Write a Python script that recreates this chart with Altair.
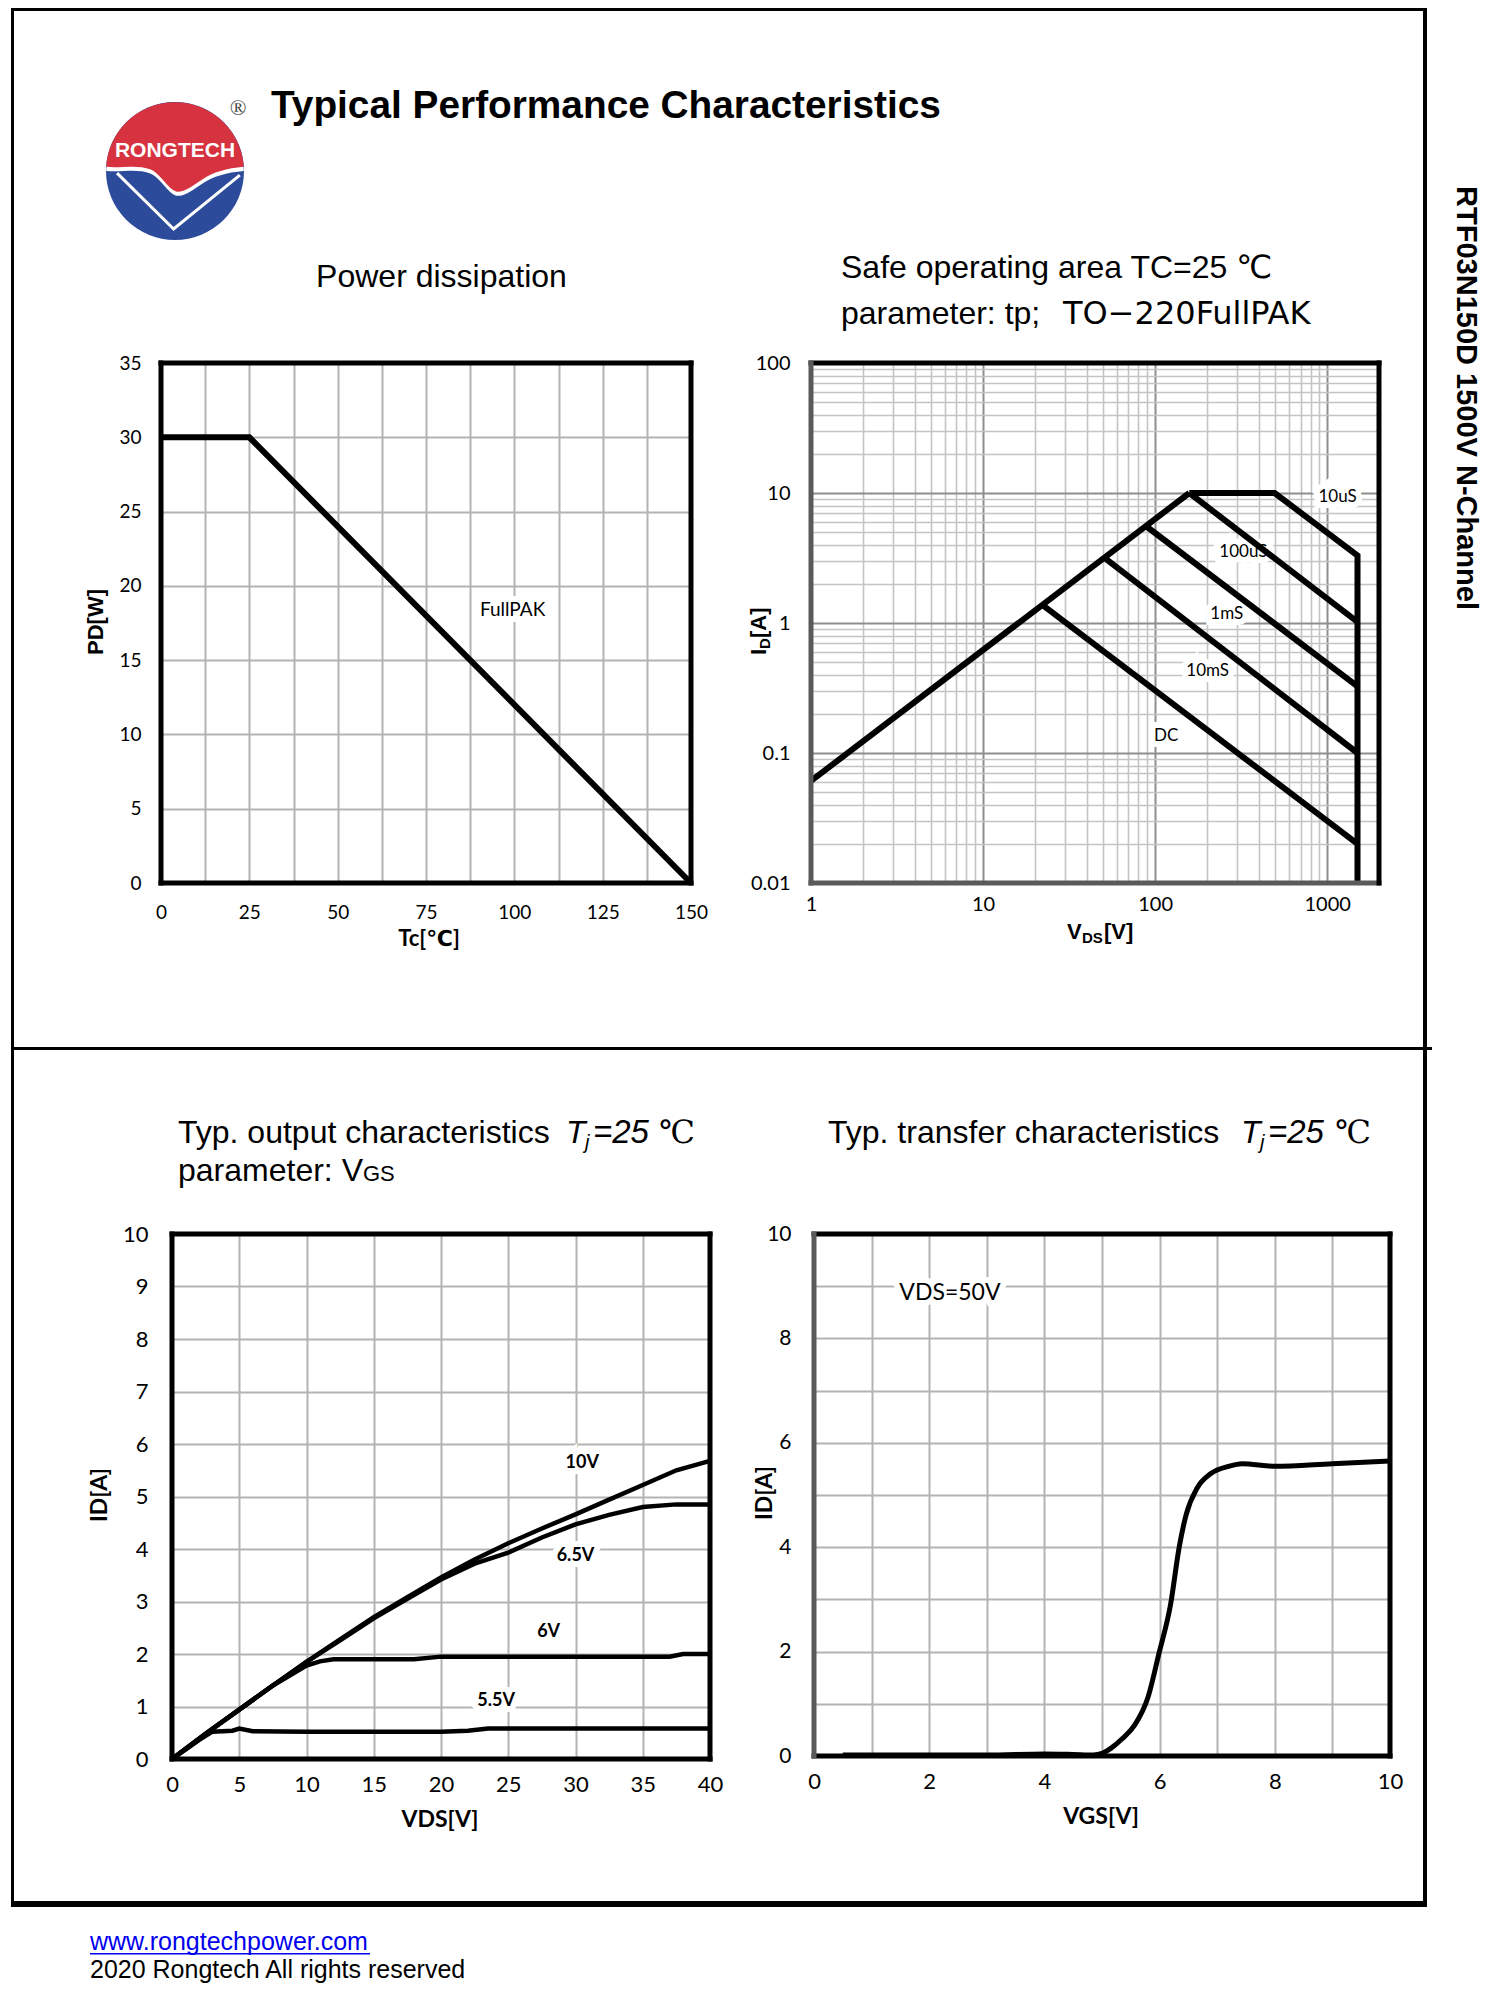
import altair as alt
import pandas as pd

# ---------------- data ----------------
# Power dissipation  PD[W] vs Tc[C]
pd_tc = [0, 25, 150]
pd_w = [30, 30, 0]
pd_note = ["FullPAK"]
pd_note_x = [99.5]
pd_note_y = [18.4]

# Safe operating area (VDS [V], ID [A])
soa_rds_v = [1, 158]
soa_rds_i = [0.061, 10]
soa_10us_v = [158, 495, 1500, 1500]
soa_10us_i = [10, 10, 3.3, 0.01]
soa_100us_v = [158, 1500]
soa_100us_i = [10, 1.02]
soa_1ms_v = [88.7, 1500]
soa_1ms_i = [5.55, 0.325]
soa_10ms_v = [50.8, 1500]
soa_10ms_i = [3.17, 0.1]
soa_dc_v = [22.2, 1500]
soa_dc_i = [1.37, 0.02]
soa_note = ["10uS", "100uS", "1mS", "10mS", "DC"]
soa_note_v = [1150, 326, 261, 202, 116]
soa_note_i = [9.3, 3.5, 1.17, 0.43, 0.135]

# Output characteristics (VDS [V], ID [A]) per VGS
out_x_10v = [0, 2.5, 5, 7.5, 10, 12.5, 15, 17.5, 20, 22.5, 25, 27.5, 30, 32.5, 35, 37.5, 40]
out_y_10v = [0, 0.48, 0.94, 1.4, 1.85, 2.28, 2.7, 3.08, 3.46, 3.8, 4.11, 4.39, 4.66, 4.94, 5.22, 5.5, 5.68]
out_x_65v = [0, 2.5, 5, 7.5, 10, 12.5, 15, 17.5, 20, 22.5, 25, 27.5, 30, 32.5, 35, 37.5, 40]
out_y_65v = [0, 0.48, 0.94, 1.4, 1.85, 2.26, 2.68, 3.05, 3.42, 3.72, 3.93, 4.22, 4.47, 4.65, 4.8, 4.85, 4.85]
out_x_6v = [0, 2.5, 5, 7.5, 10, 11, 12, 15, 18, 20, 25, 30, 37, 38, 40]
out_y_6v = [0, 0.48, 0.94, 1.4, 1.78, 1.86, 1.9, 1.9, 1.9, 1.95, 1.95, 1.95, 1.95, 2.0, 2.0]
out_x_55v = [0, 1, 2, 3, 4.5, 5, 6, 10, 15, 20, 22, 23.5, 30, 40]
out_y_55v = [0, 0.18, 0.36, 0.52, 0.54, 0.58, 0.53, 0.52, 0.52, 0.52, 0.54, 0.58, 0.58, 0.58]
out_note = ["10V", "6.5V", "6V", "5.5V"]
out_note_x = [30.5, 30.0, 28.0, 24.1]
out_note_y = [5.63, 3.86, 2.42, 1.11]

# Transfer characteristics (VGS [V], ID [A])
tr_vgs = [0.5, 1, 2, 3, 4, 4.5, 4.85, 5.0, 5.17, 5.35, 5.56, 5.8, 5.99, 6.19, 6.34, 6.46, 6.65, 6.89, 7.2, 7.43, 8.0, 9.0, 10.0]
tr_id = [0.02, 0.02, 0.02, 0.02, 0.04, 0.03, 0.02, 0.05, 0.16, 0.33, 0.58, 1.13, 1.97, 2.9, 4.0, 4.62, 5.13, 5.41, 5.55, 5.6, 5.55, 5.6, 5.65]
tr_note = ["VDS=50V"]
tr_note_x = [2.36]
tr_note_y = [8.87]

# tick values
pd_x_ticks = [0, 12.5, 25, 37.5, 50, 62.5, 75, 87.5, 100, 112.5, 125, 137.5, 150]
pd_y_ticks = [0, 5, 10, 15, 20, 25, 30, 35]
soa_x_ticks = [round(m * 10.0 ** e, 8) for e in range(0, 3) for m in range(1, 10)] + [1000, 2000]
soa_y_ticks = [round(m * 10.0 ** e, 8) for e in range(-2, 2) for m in range(1, 10)] + [100]
soa_x_major = [1, 10, 100, 1000]
soa_y_major = [0.01, 0.1, 1, 10, 100]
out_x_ticks = [0, 5, 10, 15, 20, 25, 30, 35, 40]
out_y_ticks = [0, 1, 2, 3, 4, 5, 6, 7, 8, 9, 10]
tr_x_ticks = [0, 1, 2, 3, 4, 5, 6, 7, 8, 9, 10]
tr_y_ticks = [0, 1, 2, 3, 4, 5, 6, 7, 8, 9, 10]

# ---------------- helpers ----------------
SANS = "Liberation Sans, Arial, DejaVu Sans"
WIDE = "DejaVu Sans, Liberation Sans"
LATO = "Lato, DejaVu Sans"
SERIF = "Liberation Serif, DejaVu Serif, serif"
OX = OY = 8
one = pd.DataFrame({"k": [0]})


def series(name, xs, ys):
    return pd.DataFrame({"x": xs, "y": ys, "s": name, "i": list(range(len(xs)))})


def notes(texts, xs, ys):
    return pd.DataFrame({"x": xs, "y": ys, "t": texts})


def txt(s, X, Y, size, font=SANS, weight="normal", style="normal", align="left",
        baseline="alphabetic", angle=0, color="black"):
    props = dict(text=s, font=font, fontSize=size, fontWeight=weight, fontStyle=style,
                 align=align, baseline=baseline, color=color)
    if angle:
        props["angle"] = angle
    return alt.Chart(one).mark_text(**props).encode(x=alt.value(X - OX), y=alt.value(Y - OY))


def box(X1, X2, Y1, Y2, color="black"):
    return alt.Chart(one).mark_rect(color=color).encode(
        x=alt.value(X1 - OX), x2=alt.value(X2 - OX), y=alt.value(Y1 - OY), y2=alt.value(Y2 - OY))


def ax(values, size, pad, expr=None, gc="#b3b3b3", gw=2):
    d = dict(values=values, grid=True, gridColor=gc, gridWidth=gw, ticks=False, domain=False,
             labelFont=LATO, labelFontSize=size, labelColor="black", labelPadding=pad,
             labelFlush=False, labelOverlap=False, title=None)
    if expr is not None:
        d["labelExpr"] = expr
    return alt.Axis(**d)


def frame(x0, x1, top="black", right="black", bottom="black", left="black", w=5):
    b = alt.Chart(one)
    kw = dict(strokeWidth=w, strokeCap="square")
    return [
        b.mark_rule(color=top, **kw).encode(x=alt.value(x0), x2=alt.value(x1), y=alt.value(0)),
        b.mark_rule(color=bottom, **kw).encode(x=alt.value(x0), x2=alt.value(x1), y=alt.value("height")),
        b.mark_rule(color=left, **kw).encode(x=alt.value(x0), y=alt.value(0), y2=alt.value("height")),
        b.mark_rule(color=right, **kw).encode(x=alt.value(x1), y=alt.value(0), y2=alt.value("height")),
    ]


def note_layers(df, size, weight="normal", halo=12):
    base = alt.Chart(df).encode(x="x:Q", y="y:Q", text="t:N")
    h = base.mark_text(font=LATO, fontSize=size, fontWeight=weight, color="white",
                       stroke="white", strokeWidth=halo, strokeJoin="miter")
    t = base.mark_text(font=LATO, fontSize=size, fontWeight=weight, color="black")
    return h, t


def spacer(w, h):
    return alt.Chart(one).mark_point(opacity=0).properties(width=w, height=h)


# grid columns (page x):  8 |150| 158 |549| 707 |101| 808 |579| 1387
COL0, COL1, COL2, COL3 = 150, 549, 101, 579

# ---------------- plot 1: power dissipation (x 158-688) ----------------
p1_df = pd.DataFrame({"x": pd_tc, "y": pd_w})
p1_line = alt.Chart(p1_df).mark_line(color="black", strokeWidth=6).encode(
    x=alt.X("x:Q", scale=alt.Scale(domain=[0, 150], range=[0, 530], nice=False, zero=False),
            axis=ax(pd_x_ticks, 19, 20, "datum.value % 25 == 0 ? '' + datum.value : ''")),
    y=alt.Y("y:Q", scale=alt.Scale(domain=[0, 35], nice=False), axis=ax(pd_y_ticks, 19, 20)),
)
h1, t1 = note_layers(notes(pd_note, pd_note_x, pd_note_y), 19)
p1 = alt.layer(h1, p1_line, t1, *frame(0, 530)).properties(width=COL1, height=520)

# ---------------- plot 2: SOA (x 808-1376) ----------------
soa_df = pd.concat([
    series("rds", soa_rds_v, soa_rds_i),
    series("10us", soa_10us_v, soa_10us_i),
    series("100us", soa_100us_v, soa_100us_i),
    series("1ms", soa_1ms_v, soa_1ms_i),
    series("10ms", soa_10ms_v, soa_10ms_i),
    series("dc", soa_dc_v, soa_dc_i),
])
tx = "indexof(%s, datum.value) >= 0" % str(soa_x_major)
ty = "indexof(%s, datum.value) >= 0" % str(soa_y_major)
gcx = {"condition": {"test": tx, "value": "#8e8e8e"}, "value": "#c4c4c4"}
gcy = {"condition": {"test": ty, "value": "#8e8e8e"}, "value": "#c4c4c4"}
gwx = {"condition": {"test": tx, "value": 2}, "value": 1.6}
gwy = {"condition": {"test": ty, "value": 2}, "value": 1.6}
p2_lines = alt.Chart(soa_df).mark_line(color="black", strokeWidth=6, strokeJoin="miter").encode(
    x=alt.X("x:Q", scale=alt.Scale(type="log", domain=[1, 2000], range=[0, 568], nice=False),
            axis=ax(soa_x_ticks, 20, 11, "%s ? '' + datum.value : ''" % tx, gcx, gwx)),
    y=alt.Y("y:Q", scale=alt.Scale(type="log", domain=[0.01, 100], nice=False),
            axis=ax(soa_y_ticks, 20, 21, "%s ? '' + datum.value : ''" % ty, gcy, gwy)),
    detail="s:N", order="i:Q",
)
h2, t2 = note_layers(notes(soa_note, soa_note_v, soa_note_i), 17)
p2 = alt.layer(h2, p2_lines, t2, *frame(0, 568, left="#5a5a5a", bottom="#5a5a5a")).properties(
    width=COL3, height=520)

# ---------------- plot 3: output characteristics (x 169-707) ----------------
out_df = pd.concat([
    series("10V", out_x_10v, out_y_10v),
    series("6.5V", out_x_65v, out_y_65v),
    series("6V", out_x_6v, out_y_6v),
    series("5.5V", out_x_55v, out_y_55v),
])
p3_lines = alt.Chart(out_df).mark_line(color="black", strokeWidth=4.5).encode(
    x=alt.X("x:Q", scale=alt.Scale(domain=[0, 40], range=[11, 549], nice=False),
            axis=ax(out_x_ticks, 22, 15)),
    y=alt.Y("y:Q", scale=alt.Scale(domain=[0, 10], nice=False), axis=ax(out_y_ticks, 22, 13)),
    detail="s:N", order="i:Q",
)
h3, t3 = note_layers(notes(out_note, out_note_x, out_note_y), 18, weight="bold")
p3 = alt.layer(h3, p3_lines, t3, *frame(11, 549)).properties(width=COL1, height=525)

# ---------------- plot 4: transfer characteristics (x 811-1387) ----------------
tr_df = pd.DataFrame({"x": tr_vgs, "y": tr_id})
p4_line = alt.Chart(tr_df).mark_line(color="black", strokeWidth=5, interpolate="monotone").encode(
    x=alt.X("x:Q", scale=alt.Scale(domain=[0, 10], range=[3, 579], nice=False),
            axis=ax(tr_x_ticks, 22, 15, "datum.value % 2 == 0 ? '' + datum.value : ''")),
    y=alt.Y("y:Q", scale=alt.Scale(domain=[0, 10], nice=False),
            axis=ax(tr_y_ticks, 21, 20, "datum.value % 2 == 0 ? '' + datum.value : ''")),
)
h4, t4 = note_layers(notes(tr_note, tr_note_x, tr_note_y), 23)
p4 = alt.layer(h4, p4_line, t4, *frame(3, 579, left="#5a5a5a")).properties(width=COL3, height=522)

# ---------------- page decorations ----------------
CX, CY, RR = 172, 171, 69
LOGO_SIZE = (2 * RR) ** 2


def red_path(dy):
    pts = [(-0.998, -0.06), (0.998, -0.06), (0.75, -0.04), (0.55, 0.02), (0.4, 0.12),
           (0.25, 0.22), (0.15, 0.3), (0.04, 0.3), (-0.08, 0.3), (-0.2, 0.05), (-0.35, -0.02),
           (-0.55, -0.1), (-0.75, -0.04), (-0.998, -0.06)]
    p = [(x, y + dy) for x, y in pts]
    f = lambda q: "%.3f,%.3f" % q
    return ("M%s A1,1 0 0 1 %s C%s %s %s C%s %s %s C%s %s %s C%s %s %s Z"
            % tuple(f(q) for q in p))


def logo_sym(shape, color, filled=True, sw=0):
    if filled:
        m = alt.Chart(one).mark_point(shape=shape, filled=True, color=color, opacity=1,
                                      size=LOGO_SIZE, strokeWidth=0)
    else:
        m = alt.Chart(one).mark_point(shape=shape, filled=False, color=color, opacity=1,
                                      size=LOGO_SIZE, strokeWidth=sw)
    return m.encode(x=alt.value(CX - OX), y=alt.value(CY - OY))


BLUE = "#2c4b9b"
RED = "#d6323f"
page_layers = [
    # page borders and divider
    box(8, 11, 8, 1907), box(8, 1424, 8, 11), box(1420, 1424, 8, 1907),
    box(8, 1424, 1901, 1907), box(8, 1429, 1047, 1050),
    # logo
    logo_sym("circle", BLUE),
    logo_sym(red_path(0.06), "white"),
    logo_sym(red_path(0.0), RED),
    logo_sym("M-0.84,0.03 L-0.02,0.84 L0.94,0.06", "white", filled=False, sw=3),
    txt("RONGTECH", CX, 151, 21, weight="bold", align="center", baseline="middle", color="white"),
    txt("®", 235, 108, 22, font=SERIF, align="center", baseline="middle", color="#444444"),
    txt("Typical Performance Characteristics", 268, 118, 38.8, weight="bold"),
    txt("RTF03N150D 1500V N-Channel", 1463, 398, 29, weight="bold", align="center",
        baseline="middle", angle=90),
    # plot titles
    txt("Power dissipation", 438.5, 287, 32, align="center"),
    txt("Safe operating area TC=25 ℃", 838, 278, 32),
    txt("parameter: tp;", 838, 324, 32),
    txt("TO−220FullPAK", 1060, 324, 32, font=WIDE),
    txt("Typ. output characteristics", 175, 1143, 32),
    txt("T", 563, 1143, 32, style="italic"),
    txt("j", 582, 1149, 20, style="italic"),
    txt("=25", 590, 1143, 33, style="italic"),
    txt("℃", 656, 1143, 32, font=SERIF),
    txt("parameter: V", 175, 1181, 32),
    txt("GS", 360, 1181, 22),
    txt("Typ. transfer characteristics", 825, 1143, 32),
    txt("T", 1238, 1143, 32, style="italic"),
    txt("j", 1257, 1149, 20, style="italic"),
    txt("=25", 1265, 1143, 33, style="italic"),
    txt("℃", 1332, 1143, 32, font=SERIF),
    # axis titles
    txt("PD[W]", 93, 622, 22, weight="bold", align="center", baseline="middle", angle=270),
    txt("Tc[℃]", 426, 939, 22, font=LATO, weight="bold", align="center", baseline="middle"),
    txt("I", 763, 655, 22, weight="bold", angle=270),
    txt("D", 767, 649, 15, weight="bold", angle=270),
    txt("[A]", 763, 638, 22, weight="bold", angle=270),
    txt("V", 1064, 939, 22, weight="bold"),
    txt("DS", 1079, 943, 15, weight="bold"),
    txt("[V]", 1101, 939, 22, weight="bold"),
    txt("ID[A]", 97, 1495, 23, font=LATO, weight="bold", align="center", baseline="middle", angle=270),
    txt("VDS[V]", 437, 1820, 23, font=LATO, weight="bold", align="center", baseline="middle"),
    txt("ID[A]", 762, 1493, 23, font=LATO, weight="bold", align="center", baseline="middle", angle=270),
    txt("VGS[V]", 1098, 1817, 23, font=LATO, weight="bold", align="center", baseline="middle"),
    # footer
    txt("www.rongtechpower.com", 87, 1950, 25, color="#0000ee"),
    box(87, 367, 1953, 1954.5, color="#0000ee"),
    txt("2020 Rongtech All rights reserved", 87, 1978, 25),
]
page = alt.layer(*page_layers).properties(width=1, height=355)

cells = [
    page, spacer(1, 355), spacer(1, 355), spacer(1, 355),
    spacer(COL0, 520), p1, spacer(COL2, 520), p2,
    spacer(1, 351), spacer(1, 351), spacer(1, 351), spacer(1, 351),
    spacer(COL0, 525), p3, spacer(COL2, 525), p4,
]

chart = alt.concat(*cells, columns=4, spacing=0, bounds="flush", align="each").properties(
    padding={"left": 0, "top": 0, "right": 8, "bottom": 0}, background="white"
).configure_view(strokeWidth=0)

chart.save("out.html", embed_options={"renderer": "svg", "actions": False})
